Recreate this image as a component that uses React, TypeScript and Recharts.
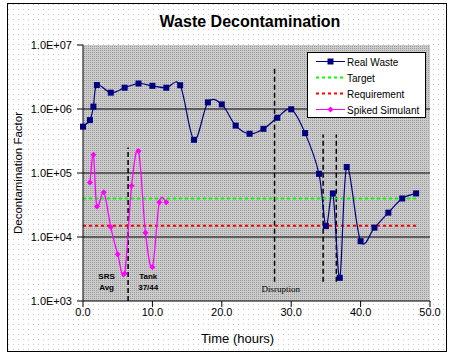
import React from "react";
import {
  ComposedChart,
  Line,
  XAxis,
  YAxis,
  CartesianGrid,
  ReferenceLine,
  ReferenceDot,
  Legend,
  Label,
} from "recharts";

// Real waste run (hours, decontamination factor)
const wasteHours = [0, 1, 1.5, 2, 4, 6, 8, 10, 12, 14, 16, 18, 20, 22, 24, 26, 28, 30, 32, 34, 35, 36, 37, 38, 40, 42, 44, 46, 48];
const wasteDF = [5.3e5, 6.7e5, 1.09e6, 2.37e6, 1.8e6, 2.15e6, 2.5e6, 2.3e6, 2.15e6, 2.35e6, 3.3e5, 1.27e6, 1.18e6, 5.5e5, 4.1e5, 4.9e5, 7.3e5, 9.9e5, 4.2e5, 9.7e4, 1.48e4, 4.8e4, 2.3e3, 1.24e5, 8.6e3, 1.4e4, 2.4e4, 4.0e4, 4.8e4];

// Spiked simulant run
const simHours = [1, 1.5, 2, 3, 4, 5, 6, 7, 8, 9, 10, 11, 12];
const simDF = [7.1e4, 1.93e5, 3.0e4, 5.0e4, 1.43e4, 5.4e3, 2.7e3, 6.3e4, 2.2e5, 1.17e4, 3.4e3, 3.5e4, 3.5e4];

// flat limits
const limitHours = [0, 48];
const targetDF = 4.0e4;
const requirementDF = 1.5e4;

// dashed event markers
const eventHours = [6.5, 27.6, 34.6, 36.5];
const eventTop = [2.5e5, 4.4e6, 4.0e5, 4.0e5];
const eventBottom = [1e3, 2e3, 2e3, 2e3];

// annotations
const noteText = [["SRS", "Avg"], ["Tank", "37/44"], ["Disruption"]];
const noteHours = [3.4, 9.4, 28.5];
const noteDF = [2.5e3, 2.5e3, 1.55e3];

const xTicks = [0, 10, 20, 30, 40, 50];
const yTicks = [1e3, 1e4, 1e5, 1e6, 1e7];
const gridDecades = [1e4, 1e5, 1e6];

const wasteData = wasteHours.map((h, i) => ({ h, v: wasteDF[i] }));
const simData = simHours.map((h, i) => ({ h, v: simDF[i] }));
const targetData = limitHours.map((h) => ({ h, v: targetDF }));
const reqData = limitHours.map((h) => ({ h, v: requirementDF }));

const NAVY = "#000080";
const MAGENTA = "#FF00FF";
const FONT = "'Liberation Sans', Arial, sans-serif";

// Catmull-Rom style smoothing, similar to Excel's smoothed lines
const smooth: any = (context: any) => {
  let pts: number[][] = [];
  return {
    areaStart() {},
    areaEnd() {},
    lineStart() {
      pts = [];
    },
    point(x: number, y: number) {
      pts.push([+x, +y]);
    },
    lineEnd() {
      if (!pts.length) return;
      context.moveTo(pts[0][0], pts[0][1]);
      const t = 1 / 6;
      for (let i = 0; i < pts.length - 1; i++) {
        const p0 = pts[i - 1] || pts[i];
        const p1 = pts[i];
        const p2 = pts[i + 1];
        const p3 = pts[i + 2] || p2;
        context.bezierCurveTo(
          p1[0] + (p2[0] - p0[0]) * t,
          p1[1] + (p2[1] - p0[1]) * t,
          p2[0] - (p3[0] - p1[0]) * t,
          p2[1] - (p3[1] - p1[1]) * t,
          p2[0],
          p2[1]
        );
      }
    },
  };
};

const SquareDot = (p: any) =>
  p.cx == null ? null : (
    <rect key={p.key} x={p.cx - 3} y={p.cy - 3} width={6} height={6} fill={NAVY} />
  );

const DiamondDot = (p: any) =>
  p.cx == null ? null : (
    <path
      key={p.key}
      d={`M${p.cx},${p.cy - 3}L${p.cx + 3},${p.cy}L${p.cx},${p.cy + 3}L${p.cx - 3},${p.cy}Z`}
      fill={MAGENTA}
    />
  );

const legendItems = [
  { name: "Real Waste", color: NAVY, dash: undefined, marker: "square" },
  { name: "Target", color: "#00FF00", dash: "3 3", marker: null },
  { name: "Requirement", color: "#FF0000", dash: "3 3", marker: null },
  { name: "Spiked Simulant", color: MAGENTA, dash: undefined, marker: "diamond" },
];

const LegendBox = () => (
  <svg width={119} height={66} style={{ display: "block" }}>
    <rect x={0.5} y={0.5} width={118} height={65} fill="#fff" stroke="#000" />
    {legendItems.map((it, i) => {
      const y = 9.5 + i * 16;
      return (
        <g key={it.name}>
          <line
            x1={9}
            x2={38}
            y1={y}
            y2={y}
            stroke={it.color}
            strokeWidth={it.dash ? 2 : 1}
            strokeDasharray={it.dash}
          />
          {it.marker === "square" && <rect x={20.5} y={y - 3} width={6} height={6} fill={it.color} />}
          {it.marker === "diamond" && (
            <path d={`M23.5,${y - 3}L26.5,${y}L23.5,${y + 3}L20.5,${y}Z`} fill={it.color} />
          )}
          <text x={40} y={y + 4} fontSize={10} fontFamily={FONT} fill="#000">
            {it.name}
          </text>
        </g>
      );
    })}
  </svg>
);

const sci = (v: number) => `1.0E+${String(Math.round(Math.log10(v))).padStart(2, "0")}`;

export default function App() {
  const dotsBg =
    "url(\"data:image/svg+xml,%3Csvg xmlns='http://www.w3.org/2000/svg' width='5' height='5'%3E%3Crect width='1' height='1' fill='%23c8c8c8'/%3E%3C/svg%3E\")";
  return (
    <div style={{ position: "absolute", left: 0, top: 0, width: 456, height: 359, background: "#fff", fontFamily: FONT }}>
      <div
        style={{
          position: "absolute",
          left: 7,
          top: 3,
          width: 440,
          height: 349,
          boxSizing: "border-box",
          border: "1px solid #000",
          backgroundImage: dotsBg,
        }}
      />
      <div
        style={{
          position: "absolute",
          left: 130,
          top: 13,
          width: 240,
          textAlign: "center",
          fontSize: 16,
          fontWeight: "bold",
          lineHeight: "18px",
        }}
      >
        Waste Decontamination
      </div>
      <div style={{ position: "absolute", left: 0, top: 0 }}>
        <ComposedChart width={456} height={359} margin={{ top: 45, right: 26, bottom: 13, left: 13 }}>
          <defs>
            <pattern id="plotDots" width={2} height={2} patternUnits="userSpaceOnUse">
              <rect width={2} height={2} fill="#cbcbcb" />
              <rect width={1} height={1} fill="#9c9c9c" />
            </pattern>
          </defs>
          <CartesianGrid horizontal={false} vertical={false} fill="url(#plotDots)" fillOpacity={1} />
          <XAxis
            dataKey="h"
            type="number"
            domain={[0, 50]}
            ticks={xTicks}
            tickFormatter={(v: number) => v.toFixed(1)}
            allowDuplicatedCategory={false}
            height={45}
            tickSize={6}
            tickMargin={1}
            stroke="#000"
            tick={{ fill: "#000", fontSize: 11, fontFamily: FONT }}
          >
            <Label value="Time (hours)" position="insideBottom" offset={5} dy={2} dx={-19} fontSize={13} fill="#000" />
          </XAxis>
          <YAxis
            dataKey="v"
            type="number"
            scale="log"
            domain={[1e3, 1e7]}
            ticks={yTicks}
            tickFormatter={sci}
            allowDataOverflow
            width={70}
            tickSize={6}
            tickMargin={5}
            stroke="#000"
            tick={{ fill: "#000", fontSize: 11, fontFamily: FONT }}
          >
            <Label
              value="Decontamination Factor"
              angle={-90}
              position="insideLeft"
              offset={5}
              fontSize={11.5}
              fill="#000"
              style={{ textAnchor: "middle" }}
            />
          </YAxis>
          {gridDecades.map((d) => (
            <ReferenceLine key={d} y={d} stroke="#000" strokeWidth={1} />
          ))}
          {eventHours.map((h, i) => (
            <ReferenceLine
              key={"ev" + i}
              segment={[
                { x: h, y: eventBottom[i] },
                { x: h, y: eventTop[i] },
              ]}
              stroke="#000"
              strokeWidth={1.5}
              strokeDasharray="5 3"
            />
          ))}
          <Line data={targetData} dataKey="v" stroke="#00FF00" strokeWidth={2} strokeDasharray="3 3" dot={false} isAnimationActive={false} />
          <Line data={reqData} dataKey="v" stroke="#FF0000" strokeWidth={2} strokeDasharray="3 3" dot={false} isAnimationActive={false} />
          <Line data={simData} dataKey="v" type={smooth} stroke={MAGENTA} strokeWidth={1.3} dot={DiamondDot} isAnimationActive={false} />
          <Line data={wasteData} dataKey="v" type={smooth} stroke={NAVY} strokeWidth={1.2} dot={SquareDot} isAnimationActive={false} />
          {noteHours.map((h, i) => (
            <ReferenceDot
              key={"n" + i}
              x={h}
              y={noteDF[i]}
              r={0}
              shape={(p: any) => (
                <text
                  x={p.cx}
                  y={p.cy}
                  textAnchor="middle"
                  fontSize={noteText[i].length > 1 ? 8 : 9}
                  fontWeight={noteText[i].length > 1 ? "bold" : "normal"}
                  fontFamily={noteText[i].length > 1 ? FONT : "'Liberation Serif', 'Times New Roman', serif"}
                  fill="#000"
                >
                  {noteText[i].map((t, j) => (
                    <tspan key={j} x={p.cx} dy={j === 0 ? 3 : 11}>
                      {t}
                    </tspan>
                  ))}
                </text>
              )}
            />
          ))}
          <Legend
            layout="vertical"
            align="center"
            verticalAlign="middle"
            content={() => <LegendBox />}
            wrapperStyle={{ position: "absolute", left: 307, top: 52, width: 119, height: 66 }}
          />
        </ComposedChart>
      </div>
    </div>
  );
}
